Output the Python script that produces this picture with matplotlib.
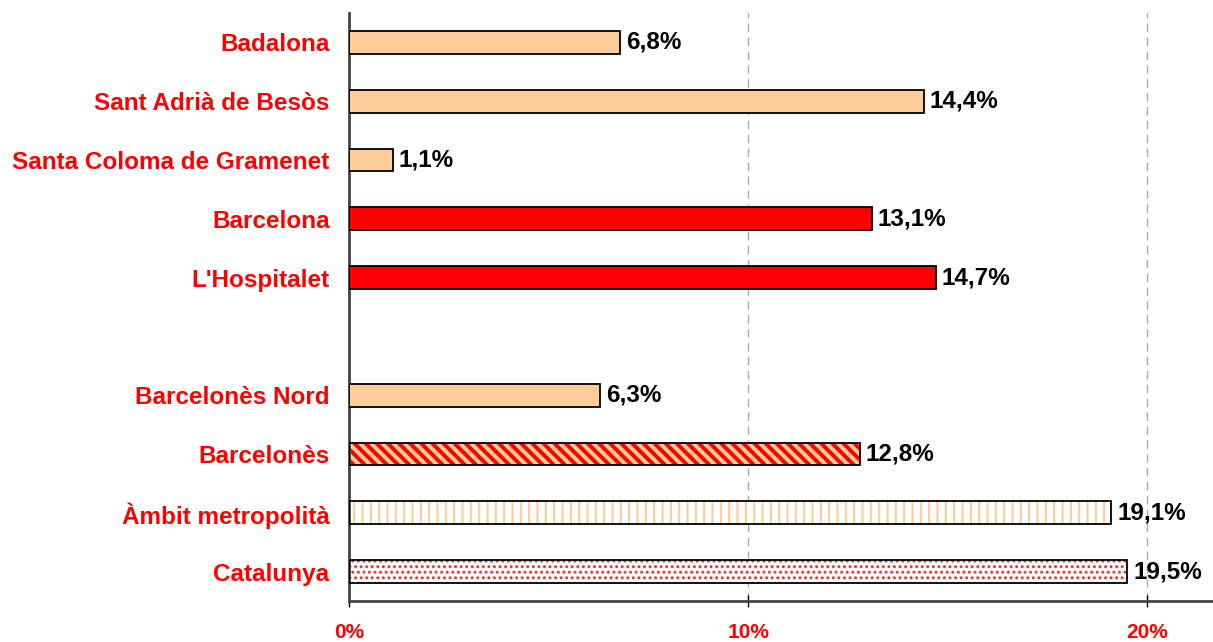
import matplotlib
matplotlib.use("Agg")
import matplotlib.pyplot as plt
from matplotlib.ticker import FuncFormatter

categories = ["Badalona", "Sant Adrià de Besòs", "Santa Coloma de Gramenet",
              "Barcelona", "L'Hospitalet", "",
              "Barcelonès Nord", "Barcelonès", "Àmbit metropolità", "Catalunya"]
values = [6.8, 14.4, 1.1, 13.1, 14.7, None, 6.3, 12.8, 19.1, 19.5]
face_colors = ["#FFCC99", "#FFCC99", "#FFCC99", "#FF0000", "#FF0000", None,
               "#FFCC99", "#FFCC99", "#FFFFFF", "#FFFFFF"]
hatches = [None, None, None, None, None, None, None, "\\\\\\", "||", "..."]
hatch_colors = [None, None, None, None, None, None, None, "#FF0000", "#FFCC99", "#FF2222"]
hatch_widths = [1, 1, 1, 1, 1, 1, 1, 2.8, 1.5, 1.3]
xticks = [0, 10, 20]

plt.rcParams['font.family'] = ['Liberation Sans', 'DejaVu Sans']
plt.rcParams['font.weight'] = 'bold'

fig = plt.figure(figsize=(12.13, 6.42), dpi=100)
ax = fig.add_axes([0.2877, 0.0639, 0.7123, 0.9159])

for i, (v, fc, h, hc, hw) in enumerate(zip(values, face_colors, hatches, hatch_colors, hatch_widths)):
    if v is None:
        continue
    if h is not None:
        plt.rcParams['hatch.linewidth'] = hw
        b = ax.barh(i, v, height=0.39, color=fc, edgecolor=hc, hatch=h, linewidth=0, zorder=2)
        for p in b:
            if hasattr(p, "set_hatch_linewidth"):
                p.set_hatch_linewidth(hw)
        ax.barh(i, v, height=0.39, fill=False, edgecolor="black", linewidth=1.3, zorder=3)
    else:
        ax.barh(i, v, height=0.39, color=fc, edgecolor="black", linewidth=1.3, zorder=3)
    ax.text(v + 0.15, i, f"{v:.1f}%".replace(".", ","), va="center", ha="left",
            fontsize=17.5, fontweight="bold", color="black")

ax.set_ylim(9.5, -0.5)
ax.set_xlim(0, 21.65)
ax.set_yticks(range(len(categories)))
ax.set_yticklabels(categories, fontsize=17.5, fontweight="bold", color="#FF0000")
ax.tick_params(axis="y", length=0, pad=14)
ax.set_xticks(xticks)
ax.xaxis.set_major_formatter(FuncFormatter(lambda x, p: f"{x:.0f}%"))
ax.tick_params(axis="x", direction="inout", length=8, width=1, color="black",
               labelsize=15, labelcolor="#FF0000", pad=12)
for t in ax.get_xticklabels():
    t.set_fontweight("bold")

ax.xaxis.grid(True, linestyle=(0, (6, 4)), color="#AAAAAA", linewidth=1, zorder=0)
ax.set_axisbelow(True)
for s in ["top", "right"]:
    ax.spines[s].set_visible(False)
for s in ["left", "bottom"]:
    ax.spines[s].set_color("#444444")
    ax.spines[s].set_linewidth(2)

fig.savefig("out.png", dpi=100)
